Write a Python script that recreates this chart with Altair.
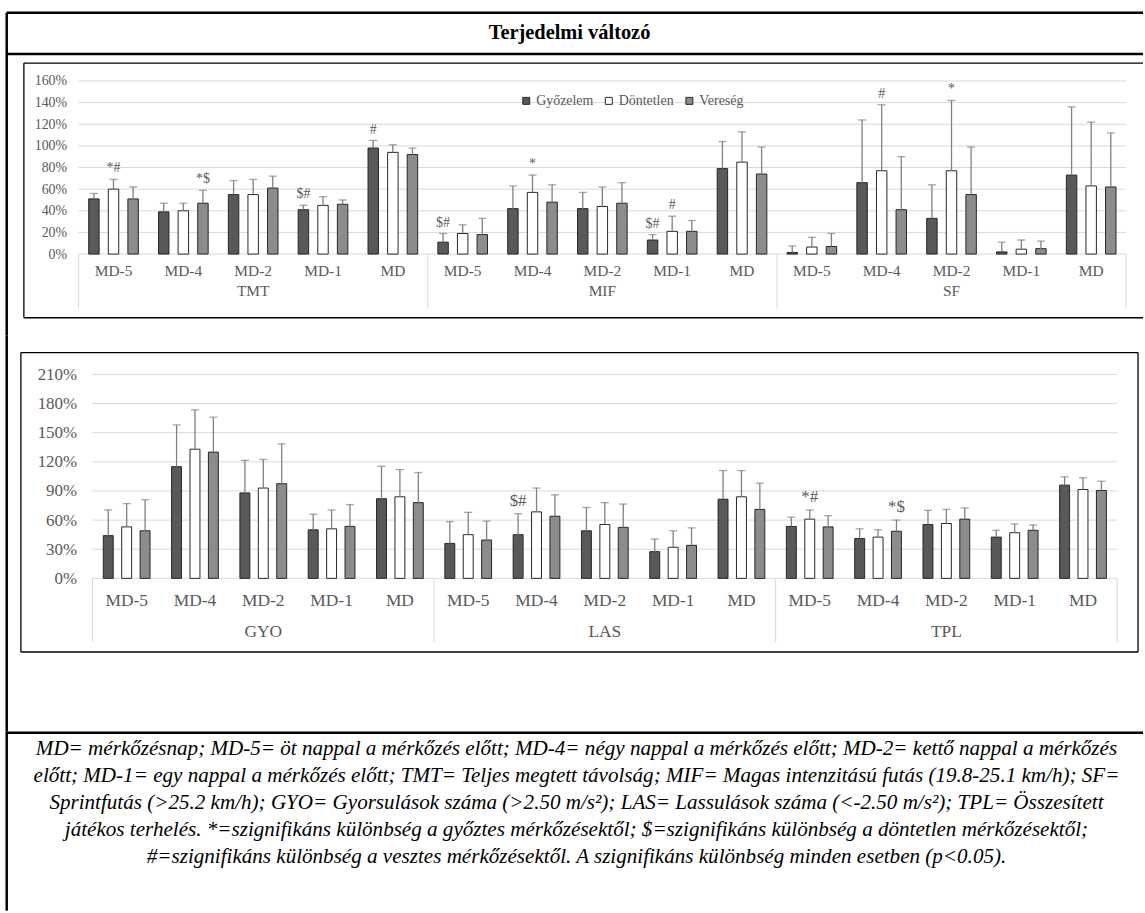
import altair as alt
import pandas as pd

# ---------------- data ----------------
days = ["MD-5", "MD-4", "MD-2", "MD-1", "MD"]
series = ["Győzelem", "Döntetlen", "Vereség"]
series_colors = ["#595959", "#ffffff", "#8c8c8c"]

top_groups = ["TMT", "MIF", "SF"]
bottom_groups = ["GYO", "LAS", "TPL"]

# means (%) per day (MD-5, MD-4, MD-2, MD-1, MD)
tmt_mean = {"Győzelem": [51, 39, 55, 41, 98], "Döntetlen": [60, 40, 55, 45, 94], "Vereség": [51, 47, 61, 46, 92]}
tmt_sd = {"Győzelem": [5, 8, 13, 4, 7], "Döntetlen": [9, 7, 14, 8, 7], "Vereség": [11, 12, 11, 4, 6]}
mif_mean = {"Győzelem": [11, 42, 42, 13, 79], "Döntetlen": [19, 57, 44, 21, 85], "Vereség": [18, 48, 47, 21, 74]}
mif_sd = {"Győzelem": [8, 21, 15, 5, 25], "Döntetlen": [8, 16, 18, 14, 28], "Vereség": [15, 16, 19, 10, 25]}
sf_mean = {"Győzelem": [1.5, 66, 33, 2, 73], "Döntetlen": [6.5, 77, 77, 4.5, 63], "Vereség": [7, 41, 55, 5, 62]}
sf_sd = {"Győzelem": [6, 58, 31, 9, 63], "Döntetlen": [9, 61, 65, 8.5, 59], "Vereség": [12, 49, 44, 7, 50]}

gyo_mean = {"Győzelem": [44, 115, 88, 50, 82], "Döntetlen": [53, 133, 93, 51, 84], "Vereség": [49, 130, 97.5, 53.5, 78]}
gyo_sd = {"Győzelem": [26.5, 43, 33.5, 16, 33.5], "Döntetlen": [24, 40.5, 29.5, 19.5, 28], "Vereség": [32, 36, 41, 22.5, 31]}
las_mean = {"Győzelem": [36, 45, 49, 27.5, 81.5], "Döntetlen": [45, 68.5, 55.5, 32, 84], "Vereség": [39.5, 64, 52.5, 34, 71]}
las_sd = {"Győzelem": [22.5, 21.5, 24, 13, 29.5], "Döntetlen": [23, 24.5, 22.5, 17, 27], "Vereség": [19.5, 22, 24, 18, 27]}
tpl_mean = {"Győzelem": [53.5, 41, 55.5, 42.5, 96], "Döntetlen": [61, 42.5, 56.5, 47, 91.5], "Vereség": [53, 48.5, 61, 49.5, 90.5]}
tpl_sd = {"Győzelem": [9.5, 10, 14.5, 7, 8.5], "Döntetlen": [9.5, 7.5, 14.5, 9, 12], "Vereség": [11.5, 11.5, 11.5, 5.5, 9.5]}

top_marks = [
    ("TMT", "MD-5", "Döntetlen", "*#"), ("TMT", "MD-4", "Vereség", "*$"),
    ("TMT", "MD-1", "Győzelem", "$#"), ("TMT", "MD", "Győzelem", "#"),
    ("MIF", "MD-5", "Győzelem", "$#"), ("MIF", "MD-4", "Döntetlen", "*"),
    ("MIF", "MD-1", "Győzelem", "$#"), ("MIF", "MD-1", "Döntetlen", "#"),
    ("SF", "MD-4", "Döntetlen", "#"), ("SF", "MD-2", "Döntetlen", "*"),
]
bottom_marks = [
    ("LAS", "MD-4", "Győzelem", "$#"), ("TPL", "MD-5", "Döntetlen", "*#"),
    ("TPL", "MD-4", "Vereség", "*$"),
]

top_ticks = [0, 20, 40, 60, 80, 100, 120, 140, 160]
bottom_ticks = [0, 30, 60, 90, 120, 150, 180, 210]

title_text = "Terjedelmi változó"
foot_lines = [
    "MD= mérkőzésnap; MD-5= öt nappal a mérkőzés előtt; MD-4= négy nappal a mérkőzés előtt; MD-2= kettő nappal a mérkőzés",
    "előtt; MD-1= egy nappal a mérkőzés előtt; TMT= Teljes megtett távolság; MIF= Magas intenzitású futás (19.8-25.1 km/h); SF=",
    "Sprintfutás (>25.2 km/h); GYO= Gyorsulások száma (>2.50 m/s²); LAS= Lassulások száma (<-2.50 m/s²); TPL= Összesített",
    "játékos terhelés. *=szignifikáns különbség a győztes mérkőzésektől; $=szignifikáns különbség a döntetlen mérkőzésektől;",
    "#=szignifikáns különbség a vesztes mérkőzésektől. A szignifikáns különbség minden esetben (p<0.05).",
]

# ---------------- styling ----------------
FONT = "Liberation Serif"
TXT = "#595959"
GRID = "#d9d9d9"
ERR = "#808080"
W = 1141
FX = 2.75  # outer frame line x (panel coords)
one = pd.DataFrame({"k": [0]})


def build(groups, means, sds):
    rows = []
    for g, m, s in zip(groups, means, sds):
        for ser in series:
            for i, d in enumerate(days):
                rows.append({"cat": f"{g}|{d}", "series": ser, "mean": m[ser][i], "top": m[ser][i] + s[ser][i]})
    return pd.DataFrame(rows)


def build_ann(df, marks):
    rows = []
    for g, d, ser, lab in marks:
        sel = df[(df["cat"] == f"{g}|{d}") & (df["series"] == ser)]
        rows.append({"cat": f"{g}|{d}", "series": ser, "top": float(sel["top"].iloc[0]), "label": lab})
    return pd.DataFrame(rows)


def hline(x1, x2, y, w=1.0, color="black"):
    return alt.Chart(one).mark_rule(color=color, strokeWidth=w).encode(
        x=alt.value(x1), x2=alt.value(x2), y=alt.value(y))


def vline(x, y1, y2, w=1.0, color="black"):
    return alt.Chart(one).mark_rule(color=color, strokeWidth=w).encode(
        x=alt.value(x), y=alt.value(y1), y2=alt.value(y2))


def chart_panel(groups, means, sds, marks, ticks, H, xr, yr, ymax, box, label_y, group_y, sep_y2,
                fs_axis, fs_lab, fs_ann, legend, xpad, ylab_pad, right_border):
    df = build(groups, means, sds)
    ann = build_ann(df, marks)
    cats = [f"{g}|{d}" for g in groups for d in days]
    xs = alt.Scale(domain=cats, range=xr, paddingInner=0, paddingOuter=0)
    ys = alt.Scale(domain=[0, ymax], range=yr, nice=False)
    xo = alt.XOffset("series:N", scale=alt.Scale(domain=series, paddingInner=xpad[0], paddingOuter=xpad[1]))
    yaxis = alt.Axis(values=ticks, labelExpr="datum.value + '%'", offset=-xr[0], domain=False, ticks=False,
                     tickSize=0, grid=False, labelPadding=ylab_pad, labelFont=FONT, labelFontSize=fs_axis,
                     labelColor=TXT, title=None)

    def X(**kw):
        return alt.X("cat:N", scale=xs, axis=None, **kw)

    def Y(f):
        return alt.Y(f, scale=ys, axis=yaxis)

    layers = []
    # grid lines
    layers.append(alt.Chart(pd.DataFrame({"tick": ticks})).mark_rule(color=GRID, strokeWidth=1).encode(
        y=Y("tick:Q"), x=alt.value(xr[0]), x2=alt.value(xr[1])))
    # category separators
    sep_df = pd.DataFrame({"cat": [f"{g}|MD-5" for g in groups]})
    layers.append(alt.Chart(sep_df).mark_rule(color=GRID, strokeWidth=1).encode(
        x=X(bandPosition=0), y=alt.value(yr[0]), y2=alt.value(sep_y2)))
    layers.append(alt.Chart(pd.DataFrame({"cat": [cats[-1]]})).mark_rule(color=GRID, strokeWidth=1).encode(
        x=X(bandPosition=1), y=alt.value(yr[0]), y2=alt.value(sep_y2)))
    # bars
    layers.append(alt.Chart(df).mark_bar(stroke="#262626", strokeWidth=1).encode(
        x=X(), xOffset=xo, y=Y("mean:Q"),
        color=alt.Color("series:N", scale=alt.Scale(domain=series, range=series_colors), legend=legend)))
    # error bars
    layers.append(alt.Chart(df).mark_rule(color=ERR, strokeWidth=1.3).encode(
        x=X(), xOffset=xo, y=Y("mean:Q"), y2="top:Q"))
    layers.append(alt.Chart(df).mark_tick(color=ERR, thickness=1.3, size=8).encode(
        x=X(), xOffset=xo, y=Y("top:Q")))
    # significance marks
    layers.append(alt.Chart(ann).mark_text(baseline="bottom", dy=-4, font=FONT, fontSize=fs_ann, color=TXT).encode(
        x=X(), xOffset=xo, y=Y("top:Q"), text="label:N"))
    # day labels & group labels
    day_df = pd.DataFrame({"cat": cats, "day": [d for g in groups for d in days]})
    layers.append(alt.Chart(day_df).mark_text(baseline="middle", font=FONT, fontSize=fs_lab, color=TXT).encode(
        x=X(), y=alt.value(label_y), text="day:N"))
    grp_df = pd.DataFrame({"cat": [f"{g}|MD-2" for g in groups], "group": groups})
    layers.append(alt.Chart(grp_df).mark_text(baseline="middle", font=FONT, fontSize=fs_lab, color=TXT).encode(
        x=X(), y=alt.value(group_y), text="group:N"))
    # chart box and outer frame
    bx1, by1, bx2, by2 = box
    layers.append(hline(bx1, bx2, by1, 1.3))
    layers.append(hline(bx1, bx2, by2, 1.3))
    layers.append(vline(bx1, by1, by2, 1.3))
    if right_border:
        layers.append(vline(bx2, by1, by2, 1.3))
    layers.append(vline(FX, 0, H, 2.5))
    return alt.layer(*layers).properties(width=W, height=H)


# ---------------- panels ----------------
title_panel = alt.layer(
    hline(2.5, W + 4, 2.5, 2.5),
    hline(2.5, W + 4, 44, 2.5),
    vline(FX, 2.5, 44, 2.5),
    alt.Chart(one).mark_text(text=title_text, font=FONT, fontSize=20.5, fontWeight="bold", color="black",
                             baseline="middle", align="center").encode(x=alt.value(568.5), y=alt.value(23)),
).properties(width=W, height=44)

top_legend = alt.Legend(orient="none", legendX=518, legendY=40, direction="horizontal", title=None,
                        symbolType="square", symbolSize=49, symbolStrokeColor="#262626", symbolStrokeWidth=1,
                        labelFont=FONT, labelFontSize=14, labelColor=TXT, labelOffset=3, columnPadding=8,
                        padding=0)

top_panel = chart_panel(top_groups, [tmt_mean, mif_mean, sf_mean], [tmt_sd, mif_sd, sf_sd], top_marks, top_ticks,
                        H=283, xr=[75, 1128], yr=[201, 27], ymax=160, box=(20, 9, W + 4, 265),
                        label_y=218, group_y=238, sep_y2=256, fs_axis=14, fs_lab=15.5, fs_ann=14,
                        legend=top_legend, xpad=(0.467, 0.515), ylab_pad=12, right_border=False)

bottom_panel = chart_panel(bottom_groups, [gyo_mean, las_mean, tpl_mean], [gyo_sd, las_sd, tpl_sd], bottom_marks,
                           bottom_ticks, H=398, xr=[89, 1119], yr=[244, 39], ymax=210, box=(17, 17, 1140, 318),
                           label_y=267, group_y=298, sep_y2=308, fs_axis=17, fs_lab=17.5, fs_ann=17,
                           legend=None, xpad=(0.46, 0.586), ylab_pad=16, right_border=True)

foot_panel = alt.layer(
    hline(FX, W + 4, 1.25, 2.5),
    vline(FX, 0, 180, 2.5),
    alt.Chart(one).mark_text(text=foot_lines, font=FONT, fontSize=21.2, fontStyle="italic", color="black",
                             baseline="top", align="center", lineHeight=27).encode(x=alt.value(575.5), y=alt.value(7)),
).properties(width=W, height=180)

chart = alt.vconcat(title_panel, top_panel, bottom_panel, foot_panel, spacing=0, bounds="flush").resolve_scale(
    x="independent", y="independent", color="independent", xOffset="independent"
).resolve_legend(color="independent").properties(
    padding={"left": 4, "top": 8, "right": 0, "bottom": 0}
).configure(font=FONT).configure_view(stroke=None, strokeWidth=0)

chart.save("out.html", embed_options={"renderer": "svg", "actions": False})
